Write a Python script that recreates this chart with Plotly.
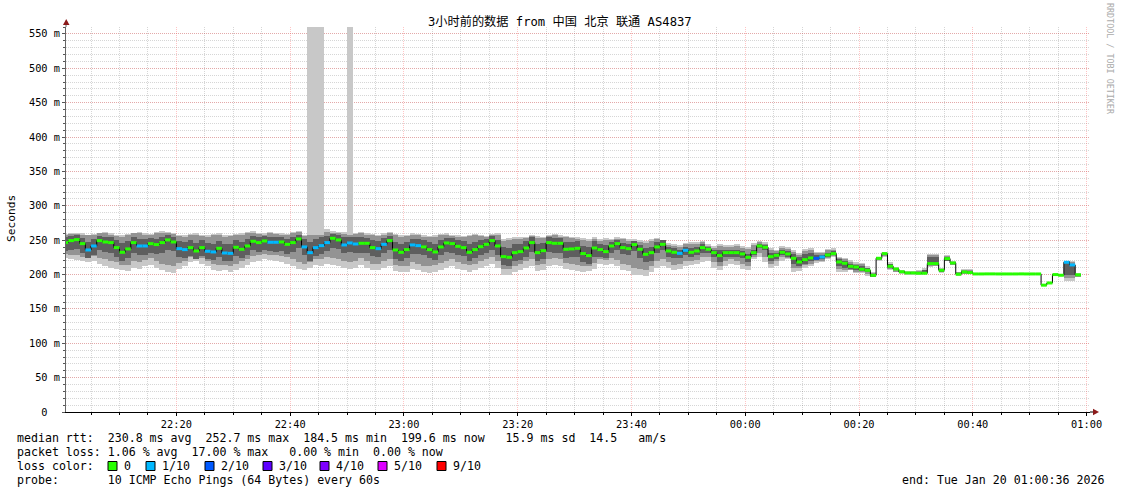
import plotly.graph_objects as go
from datetime import datetime, timedelta

# ---------------- data ----------------
title_text = "3小时前的数据 from 中国 北京 联通 AS4837"
range_start = datetime(2026, 1, 19, 22, 0, 36)
range_end = datetime(2026, 1, 20, 1, 0, 36)
first_sample_end = datetime(2026, 1, 19, 22, 1, 0)
step_seconds = 60

median_ms = [
    246.4, 249.3, 250.7, 244.9, 235.7, 241.5, 249.3, 247.3, 246.4, 239.1,
    232.3, 237.2, 246.4, 241.5, 241.5, 244.9, 243.5, 246.4, 250.3, 247.3,
    237.6, 236.2, 239.1, 234.2, 239.1, 233.8, 232.8, 238.1, 231.3, 230.8,
    239.6, 236.7, 241.5, 248.3, 246.4, 248.8, 246.9, 246.9, 247.3, 243.9,
    246.4, 251.7, 240.1, 231.8, 239.1, 242.0, 246.4, 252.7, 250.3, 243.0,
    245.9, 244.4, 245.4, 245.4, 239.1, 237.6, 243.9, 249.3, 235.7, 232.3,
    236.2, 243.0, 242.0, 240.1, 236.2, 232.8, 240.1, 245.9, 244.9, 241.0,
    239.1, 232.3, 236.2, 240.5, 243.9, 249.3, 241.5, 226.0, 225.0, 231.8,
    233.3, 238.6, 246.4, 231.8, 234.7, 246.4, 245.4, 245.4, 236.7, 237.2,
    238.1, 230.4, 227.5, 238.6, 236.2, 233.3, 241.5, 244.9, 239.1, 237.6,
    243.5, 236.7, 229.4, 231.8, 240.1, 243.9, 234.2, 232.3, 230.8, 235.2,
    232.3, 234.2, 239.1, 236.7, 231.8, 227.5, 231.8, 231.8, 231.8, 229.9,
    225.0, 231.8, 241.5, 239.6, 226.0, 227.9, 232.3, 229.9, 223.6, 218.2,
    221.6, 224.1, 223.6, 225.5, 228.4, 230.4, 218.2, 216.3, 211.9, 210.9,
    207.6, 206.1, 198.8, 223.6, 230.4, 212.0, 208.0, 204.0, 202.3, 202.3,
    201.8, 201.8, 215.9, 215.9, 206.2, 223.1, 216.8, 200.4, 203.7, 202.8,
    200.8, 200.8, 200.9, 200.9, 200.8, 200.8, 200.8, 200.8, 200.9, 200.8,
    200.8, 200.8, 184.5, 187.7, 199.9, 198.9, 217.8, 213.9, 199.6,
]

loss_tenths = [
    0, 0, 0, 0, 1, 1, 0, 0, 0, 0,
    0, 0, 0, 1, 1, 0, 0, 0, 0, 0,
    1, 1, 0, 0, 0, 1, 1, 0, 1, 1,
    0, 0, 0, 0, 0, 0, 1, 1, 0, 0,
    0, 0, 1, 1, 1, 1, 1, 0, 0, 1,
    1, 1, 0, 0, 0, 1, 1, 0, 0, 0,
    0, 1, 1, 0, 0, 0, 0, 0, 0, 0,
    0, 0, 0, 0, 0, 0, 0, 0, 0, 0,
    0, 0, 0, 0, 0, 0, 0, 0, 0, 0,
    0, 0, 0, 0, 0, 0, 0, 0, 0, 0,
    0, 0, 0, 0, 0, 0, 0, 0, 1, 1,
    0, 0, 0, 0, 0, 0, 0, 0, 0, 0,
    0, 0, 0, 0, 0, 0, 0, 0, 0, 0,
    0, 0, 2, 1, 0, 0, 0, 0, 0, 0,
    0, 0, 0, 0, 0, 0, 0, 0, 0, 0,
    0, 0, 0, 0, 0, 0, 0, 0, 0, 0,
    0, 0, 0, 0, 0, 0, 0, 0, 0, 0,
    0, 0, 0, 0, 0, 0, 1, 1, 0,
]

# outer smoke (fastest / slowest ping)
smoke_hi = [
    259, 260, 261, 260, 258, 259, 261, 262, 260, 258,
    257, 259, 261, 262, 260, 259, 262, 263, 262, 261,
    258, 257, 259, 260, 258, 257, 259, 260, 257, 258,
    259, 260, 262, 263, 261, 260, 262, 261, 260, 259,
    262, 264, 258, 560, 560, 560, 266, 263, 262, 262,
    560, 261, 262, 260, 259, 258, 260, 262, 259, 257,
    258, 260, 259, 257, 256, 257, 259, 260, 258, 257,
    256, 258, 259, 258, 256, 259, 260, 252, 253, 255,
    254, 255, 258, 256, 255, 258, 259, 257, 256, 255,
    254, 253, 252, 254, 252, 253, 252, 254, 253, 252,
    251, 250, 249, 252, 253, 250, 246, 244, 243, 246,
    248, 247, 249, 244, 241, 244, 243, 243, 245, 242,
    240, 246, 249, 247, 238, 236, 242, 240, 236, 232,
    237, 238, 233, 233, 237, 238, 226, 224, 221, 218,
    217, 212, 203, 226, 233, 218, 211, 206, 205, 205,
    206, 209, 230, 230, 209, 228, 219, 204, 208, 208,
    None, None, None, None, None, None, None, None, None, None,
    None, None, None, None, None, None, 220, 219, 202,
]
smoke_lo = [
    224, 222, 221, 219, 218, 220, 215, 212, 210, 208,
    206, 205, 210, 208, 212, 214, 210, 206, 203, 202,
    208, 212, 218, 219, 216, 212, 207, 205, 206, 204,
    206, 210, 214, 218, 220, 222, 221, 220, 218, 216,
    212, 208, 206, 210, 214, 212, 216, 214, 212, 210,
    208, 210, 214, 210, 206, 206, 210, 212, 205, 203,
    204, 208, 206, 203, 202, 204, 207, 210, 212, 208,
    206, 204, 206, 210, 212, 215, 210, 200, 200, 203,
    206, 210, 212, 205, 207, 212, 214, 212, 208, 206,
    205, 204, 205, 208, 215, 214, 216, 212, 206, 205,
    200, 199, 198, 204, 210, 212, 210, 206, 208, 212,
    214, 215, 218, 220, 210, 206, 212, 216, 214, 208,
    206, 222, 226, 218, 210, 213, 220, 222, 204, 205,
    210, 212, 217, 218, 222, 225, 203, 204, 206, 202,
    202, 198, 196, 220, 226, 207, 203, 201, 200, 200,
    200, 201, 211, 212, 202, 219, 214, 198, 201, 201,
    None, None, None, None, None, None, None, None, None, None,
    None, None, None, None, None, None, 190, 190, 197,
]
# middle smoke layer
mid_hi = [
    257, 259, 259, 258, 257, 257, 260, 260, 258, 256,
    255, 257, 260, 260, 258, 258, 260, 261, 260, 259,
    256, 255, 257, 258, 256, 255, 257, 258, 255, 256,
    257, 258, 260, 261, 259, 258, 260, 259, 258, 257,
    260, 262, 256, 258, 257, 258, 262, 261, 260, 259,
    258, 259, 260, 258, 257, 256, 258, 260, 257, 255,
    256, 258, 257, 255, 254, 255, 257, 258, 256, 255,
    254, 256, 257, 256, 254, 257, 258, 249, 250, 252,
    252, 253, 256, 253, 253, 256, 257, 255, 254, 253,
    252, 250, 249, 252, 249, 250, 250, 252, 251, 249,
    249, 247, 246, 249, 251, 248, 243, 241, 240, 244,
    245, 244, 247, 242, 238, 241, 240, 240, 242, 239,
    237, 243, 247, 245, 235, 234, 239, 237, 233, 229,
    234, 235, 231, 231, 235, 236, 224, 222, 218, 216,
    215, 210, 202, 225, 232, 216, 210, 205, 204, 204,
    205, 207, 228, 228, 208, 227, 218, 203, 206, 206,
    None, None, None, None, None, None, None, None, None, None,
    None, None, None, None, None, None, 219, 218, 201,
]
mid_lo = [
    230, 229, 228, 226, 224, 227, 224, 222, 220, 218,
    214, 214, 220, 218, 221, 224, 220, 216, 214, 213,
    217, 220, 226, 225, 224, 220, 216, 214, 214, 213,
    216, 219, 223, 227, 229, 230, 229, 228, 227, 225,
    222, 218, 215, 218, 222, 222, 226, 224, 222, 220,
    218, 220, 224, 220, 216, 216, 220, 222, 214, 212,
    213, 218, 216, 213, 212, 214, 217, 220, 222, 218,
    216, 214, 216, 220, 222, 225, 220, 208, 208, 212,
    215, 220, 222, 214, 216, 222, 224, 222, 217, 215,
    214, 213, 213, 217, 222, 221, 224, 221, 215, 214,
    209, 208, 207, 213, 220, 222, 218, 214, 215, 219,
    220, 221, 225, 226, 218, 213, 219, 222, 220, 215,
    213, 226, 232, 226, 216, 219, 225, 224, 210, 209,
    214, 216, 219, 220, 224, 227, 208, 207, 206, 204,
    203, 201, 197, 221, 227, 208, 204, 202, 201, 201,
    201, 201, 212, 213, 203, 219, 214, 199, 201, 201,
    None, None, None, None, None, None, None, None, None, None,
    None, None, None, None, None, None, 195, 195, 197,
]
# inner (densest) smoke layer
core_hi = [
    254, 256, 257, 253, 248, 251, 256, 255, 254, 250,
    246, 249, 255, 252, 251, 253, 252, 255, 257, 255,
    249, 248, 250, 246, 250, 246, 245, 249, 244, 244,
    250, 248, 252, 256, 254, 256, 255, 254, 255, 252,
    254, 258, 252, 248, 252, 254, 256, 259, 258, 254,
    255, 254, 254, 253, 250, 249, 253, 256, 247, 245,
    248, 252, 252, 250, 248, 245, 250, 253, 253, 250,
    249, 245, 248, 250, 252, 256, 250, 240, 239, 244,
    245, 249, 254, 244, 246, 254, 253, 253, 247, 248,
    249, 242, 240, 249, 244, 243, 248, 250, 246, 245,
    249, 243, 238, 240, 248, 250, 240, 238, 236, 240,
    238, 240, 244, 240, 236, 236, 236, 236, 236, 234,
    230, 236, 245, 243, 232, 232, 236, 234, 230, 226,
    230, 232, 229, 228, 232, 234, 222, 220, 216, 214,
    212, 209, 201, 225, 232, 215, 210, 205, 203, 203,
    204, 206, 225, 225, 208, 226, 218, 202, 205, 205,
    None, None, None, None, None, None, None, None, None, None,
    None, None, None, None, None, None, 219, 216, 200,
]
core_lo = [
    234, 236, 237, 232, 224, 229, 235, 233, 232, 226,
    220, 224, 232, 228, 229, 232, 230, 232, 236, 234,
    225, 224, 227, 222, 227, 222, 221, 226, 219, 219,
    227, 224, 229, 235, 233, 235, 234, 233, 234, 230,
    233, 238, 228, 220, 227, 230, 234, 239, 237, 231,
    233, 232, 232, 232, 227, 225, 231, 236, 223, 220,
    224, 230, 230, 228, 224, 221, 228, 233, 232, 229,
    227, 220, 224, 228, 231, 236, 229, 214, 213, 219,
    221, 226, 233, 219, 222, 233, 232, 232, 224, 225,
    226, 218, 215, 226, 225, 224, 232, 236, 230, 228,
    234, 224, 218, 220, 232, 236, 226, 224, 224, 228,
    226, 228, 232, 232, 226, 218, 226, 226, 226, 224,
    218, 228, 238, 236, 220, 222, 228, 226, 216, 212,
    216, 220, 221, 222, 226, 228, 212, 210, 208, 206,
    205, 203, 197, 222, 228, 210, 206, 203, 201, 201,
    201, 201, 214, 214, 204, 220, 215, 199, 202, 202,
    None, None, None, None, None, None, None, None, None, None,
    None, None, None, None, None, None, 200, 200, 198,
]

loss_levels = [0, 1, 2, 3, 4, 5, 9]
loss_labels = ["0", "1/10", "2/10", "3/10", "4/10", "5/10", "9/10"]
loss_colors = ["#26ff00", "#00b8ff", "#0059ff", "#5e00ff", "#7e00ff", "#dd00ff", "#ff0000"]

y_tick_values = [0, 50, 100, 150, 200, 250, 300, 350, 400, 450, 500, 550]
y_tick_labels = ["0  ", "50 m", "100 m", "150 m", "200 m", "250 m", "300 m",
                 "350 m", "400 m", "450 m", "500 m", "550 m"]

stats_rtt = "median rtt:  230.8 ms avg  252.7 ms max  184.5 ms min  199.6 ms now   15.9 ms sd  14.5   am/s"
stats_loss = "packet loss: 1.06 % avg  17.00 % max   0.00 % min  0.00 % now"
probe_text = "probe:       10 ICMP Echo Pings (64 Bytes) every 60s"
end_text = "end: Tue Jan 20 01:00:36 2026"
watermark = "RRDTOOL / TOBI OETIKER"

# ---------------- geometry ----------------
W, H = 1121, 494
PL, PR, PT, PB = 66, 1090, 27, 412
FONT = "DejaVu Sans Mono, Noto Sans CJK SC, monospace"


def px(x):
    return (x - PL) / (PR - PL)


def py(y):
    return (PB - y) / (PB - PT)


def nb(s):
    return s.replace(" ", "\u00a0")


step = timedelta(seconds=step_seconds)
ends = [first_sample_end + i * step for i in range(len(median_ms))]
starts = [e - step for e in ends]
centers = [e - step / 2 for e in ends]

fig = go.Figure()


def add_band(hi, lo, color):
    xs, ys, bs = [], [], []
    for c, h, l in zip(centers, hi, lo):
        if h is None or l is None:
            continue
        xs.append(c)
        ys.append(h - l)
        bs.append(l)
    fig.add_trace(go.Bar(x=xs, y=ys, base=bs, width=step_seconds * 1000,
                         marker=dict(color=color, line=dict(width=0)),
                         hoverinfo="skip"))


add_band(smoke_hi, smoke_lo, "#c8c8c8")
add_band(mid_hi, mid_lo, "#939393")
add_band(core_hi, core_lo, "#5e5e5e")

# median step line
fig.add_trace(go.Scatter(x=starts + [ends[-1]], y=median_ms + [median_ms[-1]],
                         mode="lines", line=dict(color="#000000", width=1, shape="hv"),
                         hoverinfo="skip"))

# loss-coloured median segments
for lvl, col in zip(loss_levels, loss_colors):
    xs, ys = [], []
    for s, e, m, l in zip(starts, ends, median_ms, loss_tenths):
        if l == lvl:
            xs += [s, e, None]
            ys += [m, m, None]
    if xs:
        fig.add_trace(go.Scatter(x=xs, y=ys, mode="lines",
                                 line=dict(color=col, width=3), hoverinfo="skip"))

grid_dash = "1px,1px"
major_grid = "rgba(255,80,80,0.33)"
minor_grid = "rgba(0,0,0,0.16)"
fig.update_layout(
    width=W, height=H, autosize=False,
    margin=dict(l=PL, r=W - PR, t=PT, b=H - PB, pad=0),
    plot_bgcolor="white", paper_bgcolor="white",
    showlegend=False, barmode="overlay", bargap=0,
    font=dict(family=FONT, size=10.3, color="#000000"),
    xaxis=dict(
        type="date", range=[range_start, range_end],
        tick0="2026-01-19 22:00:00", dtick=20 * 60 * 1000, tickformat="%H:%M",
        showgrid=True, gridcolor=major_grid, griddash=grid_dash, gridwidth=1,
        ticks="outside", ticklen=3, tickcolor="#000000",
        showline=True, linecolor="#000000", linewidth=1, zeroline=False,
        minor=dict(dtick=5 * 60 * 1000, tick0="2026-01-19 22:00:00", showgrid=True,
                   gridcolor=minor_grid, griddash=grid_dash,
                   ticks="outside", ticklen=2, tickcolor="#000000"),
        tickfont=dict(family=FONT, size=10.3),
        fixedrange=True,
    ),
    yaxis=dict(
        range=[0, 560], tickmode="array", tickvals=y_tick_values,
        ticktext=[nb(t) for t in y_tick_labels],
        showgrid=True, gridcolor=major_grid, griddash=grid_dash, gridwidth=1,
        ticks="outside", ticklen=3, tickcolor="#555555",
        showline=True, linecolor="#666666", linewidth=1, zeroline=False,
        minor=dict(dtick=10, tick0=0, showgrid=True, gridcolor=minor_grid,
                   griddash=grid_dash, ticks="outside", ticklen=2, tickcolor="#555555"),
        tickfont=dict(family=FONT, size=10.3),
        fixedrange=True,
    ),
)

shapes = []
# axis extensions and arrows
shapes.append(dict(type="line", xref="paper", yref="paper", x0=px(66), x1=px(66),
                   y0=py(PT), y1=py(22), line=dict(color="#666666", width=1)))
shapes.append(dict(type="line", xref="paper", yref="paper", x0=px(PR), x1=px(1094),
                   y0=py(412), y1=py(412), line=dict(color="#000000", width=1)))
shapes.append(dict(type="path", xref="paper", yref="paper",
                   path=f"M {px(63)} {py(25)} L {px(69.5)} {py(25)} L {px(66.2)} {py(19)} Z",
                   fillcolor="#8b1a1a", line=dict(width=0)))
shapes.append(dict(type="path", xref="paper", yref="paper",
                   path=f"M {px(1093)} {py(408.8)} L {px(1093)} {py(415.3)} L {px(1099)} {py(412)} Z",
                   fillcolor="#8b1a1a", line=dict(width=0)))

annotations = []
annotations.append(dict(text=nb(title_text), xref="paper", yref="paper", x=px(560), y=py(21),
                        xanchor="center", yanchor="middle", showarrow=False,
                        font=dict(family=FONT, size=12.2, color="#000000")))
annotations.append(dict(text="Seconds", xref="paper", yref="paper", x=px(11), y=py(219),
                        xanchor="center", yanchor="middle", showarrow=False, textangle=-90,
                        font=dict(family=FONT, size=11.2, color="#000000")))
annotations.append(dict(text=nb(watermark), xref="paper", yref="paper", x=px(1110), y=py(59),
                        xanchor="center", yanchor="middle", showarrow=False, textangle=90,
                        font=dict(family=FONT, size=8.4, color="#aaaaaa")))

LEG = 11.6
rows = [(stats_rtt, 438), (stats_loss, 452), ("loss color:", 466), (probe_text, 480)]
for txt, yy in rows:
    annotations.append(dict(text=nb(txt), xref="paper", yref="paper", x=px(16), y=py(yy),
                            xanchor="left", yanchor="middle", showarrow=False, borderpad=0,
                            font=dict(family=FONT, size=LEG, color="#000000")))
annotations.append(dict(text=nb(end_text), xref="paper", yref="paper", x=px(1105), y=py(480),
                        xanchor="right", yanchor="middle", showarrow=False, borderpad=0,
                        font=dict(family=FONT, size=LEG, color="#000000")))

box_left = [108, 146, 205, 263, 320, 378, 437]
for bx, lab, col in zip(box_left, loss_labels, loss_colors):
    shapes.append(dict(type="rect", xref="paper", yref="paper",
                       x0=px(bx), x1=px(bx + 9), y0=py(470.5), y1=py(461.5),
                       fillcolor=col, line=dict(color="#000000", width=1)))
    annotations.append(dict(text=nb(lab), xref="paper", yref="paper", x=px(bx + 15), y=py(466),
                            xanchor="left", yanchor="middle", showarrow=False, borderpad=0,
                            font=dict(family=FONT, size=LEG, color="#000000")))

fig.update_layout(shapes=shapes, annotations=annotations)
fig.write_html("out.html", config={"displayModeBar": False, "staticPlot": True},
               post_script="document.body.style.margin='0';document.body.style.overflow='hidden';")
